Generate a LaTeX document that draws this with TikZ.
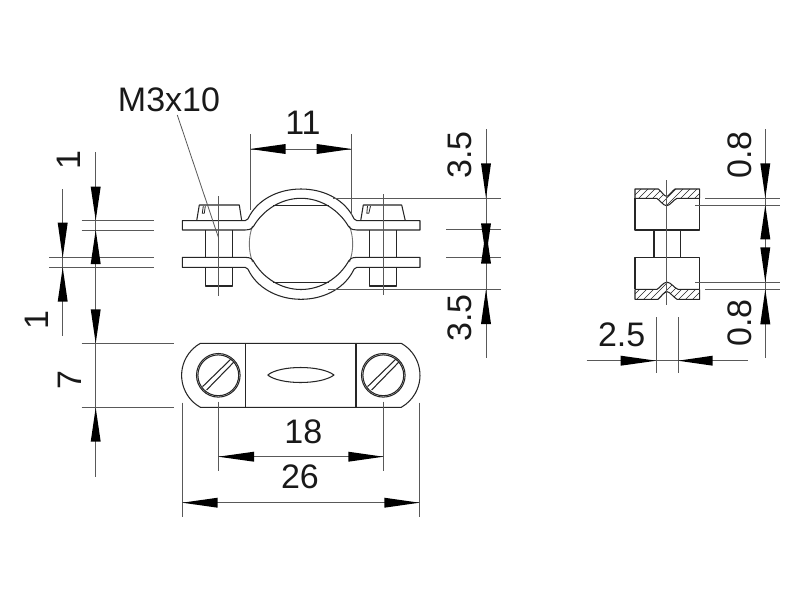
\documentclass[tikz,border=0pt]{standalone}
\usepackage{fontspec}
\setmainfont{Liberation Sans}
\definecolor{objc}{gray}{0.15}
\definecolor{dimc}{gray}{0.35}
\tikzset{
  obj/.style={draw=objc,line width=1.05pt,line join=round},
  thinobj/.style={draw=objc,line width=0.8pt},
  dimline/.style={draw=dimc,line width=0.8pt},
  pipe/.style={draw=black!55,line width=0.9pt},
  hatchline/.style={draw=objc,line width=0.5pt},
  lbl/.style={inner sep=0pt,font=\fontsize{34}{34}\selectfont,text=black!90},
  tip/.style={fill=black,draw=none}
}
% vertical arrowhead: x, tip y, base y
\newcommand{\headV}[3]{\fill[tip] (#1,#2) -- (#1-5,#3) -- (#1+5,#3) -- cycle;}
% horizontal arrowhead: y, tip x, base x
\newcommand{\headH}[3]{\fill[tip] (#2,#1) -- (#3,#1-5) -- (#3,#1+5) -- cycle;}
\begin{document}
\begin{tikzpicture}[x=1pt,y=1pt,yscale=-1]
\useasboundingbox (0,0) rectangle (800,600);
\fill[white] (0,0) rectangle (800,600);

% ---- FRONT VIEW ----
% pipe
\draw[pipe] (301,244) ++(159.6:51.7) arc[start angle=159.6,end angle=200.4,radius=51.7pt];
\draw[pipe] (301,244) ++(-20.4:51.7) arc[start angle=-20.4,end angle=20.4,radius=51.7pt];
\draw[thinobj] (273.3,205.7) -- (328.7,205.7);
\draw[thinobj] (273.3,282.5) -- (328.7,282.5);
% bolts
\foreach \a/\b/\c/\d/\e/\f in {196.7/199.3/239.3/241.7/205.3/232.7,360.7/363.3/401.7/405.3/369.3/396.7}{
  \draw[obj] (\a,220.7) -- (\b,205) -- (\c,205) -- (\d,220.7);
  \draw[obj] (\e,230) -- (\e,257.3) (\f,230) -- (\f,257.3);
  \draw[obj] (\e,267.3) -- (\e,286) -- (\f,286) -- (\f,267.3);
}
\draw[thinobj] (203.3,206) -- (202.3,213.3) -- (204.3,213.3) -- (205.3,206);
\draw[thinobj] (367.5,206) -- (366.8,213.3) -- (368.8,213.3) -- (370.5,206);
% upper strap
\draw[obj] (245,230) -- (182.3,230) -- (182.3,220.7) -- (245,220.7)
  .. controls (247.5,220.7) and (248,218.5) .. (250,215)
  .. controls (260,198) and (280,189) .. (301,189)
  .. controls (322,189) and (342,198) .. (352,215)
  .. controls (354,218.5) and (354.5,220.7) .. (357,220.7)
  -- (420,220.7) -- (420,230) -- (357,230)
  .. controls (351,229.5) and (350.7,229) .. (348.7,226.7)
  .. controls (339,210) and (321,198.3) .. (301,198.3)
  .. controls (281,198.3) and (263,210) .. (253.3,226.7)
  .. controls (251.3,229) and (251,229.5) .. (245,230);
% lower strap
\draw[obj] (245,257.3) -- (182.3,257.3) -- (182.3,267.3) -- (245,267.3)
  .. controls (247.5,267.3) and (248,269.5) .. (250,273)
  .. controls (260,290) and (280,299.3) .. (301,299.3)
  .. controls (322,299.3) and (342,290) .. (352,273)
  .. controls (354,269.5) and (354.5,267.3) .. (357,267.3)
  -- (420,267.3) -- (420,257.3) -- (357,257.3)
  .. controls (351,257.8) and (350.7,258.3) .. (348.7,261)
  .. controls (339,278) and (321,289.5) .. (301,289.5)
  .. controls (281,289.5) and (263,278) .. (253.3,261)
  .. controls (251.3,258.3) and (251,257.8) .. (245,257.3);
% centre lines
\draw[dimline] (218.3,196) -- (218.3,296);
\draw[dimline] (383.3,194) -- (383.3,295);

% ---- PLAN VIEW ----
\draw[obj] (200.4,343.3) -- (401.2,343.3)
  arc[start angle=-60.8,end angle=60.8,radius=36.67pt]
  -- (200.4,407.3)
  arc[start angle=119.2,end angle=240.8,radius=36.67pt] -- cycle;
\draw[obj] (245.7,343.3) -- (245.7,407.3) (356,343.3) -- (356,407.3);
\draw[obj] (267.7,375) .. controls (280,365) and (321,365) .. (334,375)
  .. controls (321,385) and (280,385) .. (267.7,375);
\foreach \cx in {218.3,383.3}{
  \begin{scope}[shift={(\cx,375.3)}]
    \draw[obj] (0,0) circle[radius=21.8pt];
    \draw[obj] (0,0) circle[radius=20.4pt];
    \draw[obj] (-15.7,11.3) -- (12.7,-16.3);
    \draw[obj] (-11.7,14.7) -- (16,-13.7);
  \end{scope}
}

% ---- SIDE VIEW ----
\begin{scope}
  \clip (635,189) -- (658.3,189) .. controls (661,191) and (664,196) .. (666.7,196.5)
    .. controls (669,196) and (672,191) .. (675,189) -- (699.7,189) -- (699.7,198.3) -- (677,198.3)
    .. controls (673,200) and (670,205.7) .. (666.7,205.7)
    .. controls (663,205.7) and (660,200) .. (656.7,198.3) -- (635,198.3) -- cycle;
  \foreach \h in {620,627,...,720}{\draw[hatchline] (\h,210) -- (\h+24,186);}
\end{scope}
\begin{scope}
  \clip (635,289.3) -- (657,289.3) .. controls (660,288) and (663,282.2) .. (667,282.2)
    .. controls (671,282.2) and (674,288) .. (678,289.3) -- (699.7,289.3) -- (699.7,299.3) -- (677,299.3)
    .. controls (673,297) and (670,291.7) .. (667,291.7)
    .. controls (664,291.7) and (661,297) .. (658,299.3) -- (635,299.3) -- cycle;
  \foreach \h in {620,627,...,720}{\draw[hatchline] (\h,302) -- (\h+24,278);}
\end{scope}
\draw[obj] (635,198.3) -- (635,189) -- (658.3,189) .. controls (661,191) and (664,196) .. (666.7,196.5)
    .. controls (669,196) and (672,191) .. (675,189) -- (699.7,189) -- (699.7,198.3);
\draw[obj] (635,198.3) -- (656.7,198.3) .. controls (660,200) and (663,205.7) .. (666.7,205.7)
    .. controls (670,205.7) and (673,200) .. (677,198.3) -- (699.7,198.3);
\draw[obj] (635,198.3) -- (635,230) -- (699.7,230) -- (699.7,198.3);
\draw[obj] (654,230) -- (654,257.3) (680.7,230) -- (680.7,257.3);
\draw[obj] (635,289.3) -- (635,257.3) -- (699.7,257.3) -- (699.7,289.3);
\draw[obj] (635,289.3) -- (657,289.3) .. controls (660,288) and (663,282.2) .. (667,282.2)
    .. controls (671,282.2) and (674,288) .. (678,289.3) -- (699.7,289.3);
\draw[obj] (635,289.3) -- (635,299.3) -- (658,299.3) .. controls (661,297) and (664,291.7) .. (667,291.7)
    .. controls (670,291.7) and (673,297) .. (677,299.3) -- (699.7,299.3) -- (699.7,289.3);
\draw[dimline] (666.7,180) -- (666.7,305);

% ---- DIMENSIONS ----
% leader
\draw[dimline] (177.3,115) -- (218.6,238);
% 11
\draw[dimline] (250,134.3) -- (250,210) (351.7,134.3) -- (351.7,215) (250,149) -- (351.7,149);
\headH{149}{250}{285.7}\headH{149}{351.7}{316.7}
% left stack
\draw[dimline] (95.7,152) -- (95.7,476.7);
\draw[dimline] (62.7,189) -- (62.7,336);
\draw[dimline] (81.7,220.3) -- (154.3,220.3) (81.7,230) -- (154.3,230);
\draw[dimline] (49,257.7) -- (154.3,257.7) (49,267.3) -- (154.3,267.3);
\draw[dimline] (81.7,343.3) -- (174,343.3) (81.7,407.7) -- (174,407.7);
\headV{95.7}{220.3}{186.7}\headV{95.7}{230}{264}\headV{95.7}{343.3}{309.3}\headV{95.7}{407.7}{441.7}
\headV{62.7}{257.7}{222.7}\headV{62.7}{267.3}{301.7}
% 3.5
\draw[dimline] (486,129.3) -- (486,358.3);
\draw[dimline] (333,198) -- (500.7,198) (446,229.7) -- (500.7,229.7) (446,257.3) -- (500.7,257.3) (328,289.3) -- (500.7,289.3);
\headV{486}{198}{163.3}\headV{486}{257.3}{223.3}\headV{486}{229.7}{263.7}\headV{486}{289.3}{324}
% 18, 26
\draw[dimline] (218.3,401.7) -- (218.3,470.7) (383.3,401.7) -- (383.3,470.7) (218.3,456.7) -- (383.3,456.7);
\draw[dimline] (182.3,402.7) -- (182.3,516.7) (419.3,402.7) -- (419.3,516.7) (182.3,502.7) -- (419.3,502.7);
\headH{456.7}{218.3}{254}\headH{456.7}{383.3}{348.3}
\headH{502.7}{182.3}{217.7}\headH{502.7}{419.3}{384.3}
% 0.8
\draw[dimline] (765.3,129.3) -- (765.3,358.3);
\draw[dimline] (705.3,198) -- (780,198) (695,205) -- (780,205) (695,282.3) -- (780,282.3) (705.3,289.3) -- (780,289.3);
\headV{765.3}{198}{163.3}\headV{765.3}{205}{239.3}\headV{765.3}{282.3}{247.3}\headV{765.3}{289.3}{324.3}
% 2.5
\draw[dimline] (656.3,317.3) -- (656.3,373.3) (678,317.3) -- (678,373.3) (586.7,360.7) -- (747.7,360.7);
\headH{360.7}{656.3}{620.7}\headH{360.7}{678}{712.7}

% ---- LABELS ----
\node[lbl] (tM) at (169,100) {M3x10};
\node[lbl] (t11) at (303,123.3) {11};
\node[lbl,rotate=90] (t35a) at (460,155) {3.5};
\node[lbl,rotate=90] (t35b) at (460,318) {3.5};
\node[lbl,rotate=90] (t1a) at (69.3,160) {1};
\node[lbl,rotate=90] (t1b) at (37,320) {1};
\node[lbl,rotate=90] (t7) at (70,380) {7};
\node[lbl] (t18) at (303.3,431.7) {18};
\node[lbl] (t26) at (300,476.7) {26};
\node[lbl,rotate=90] (t08a) at (739.3,155) {0.8};
\node[lbl,rotate=90] (t08b) at (740,323) {0.8};
\node[lbl] (t25) at (621.7,335) {2.5};
\end{tikzpicture}
\end{document}
